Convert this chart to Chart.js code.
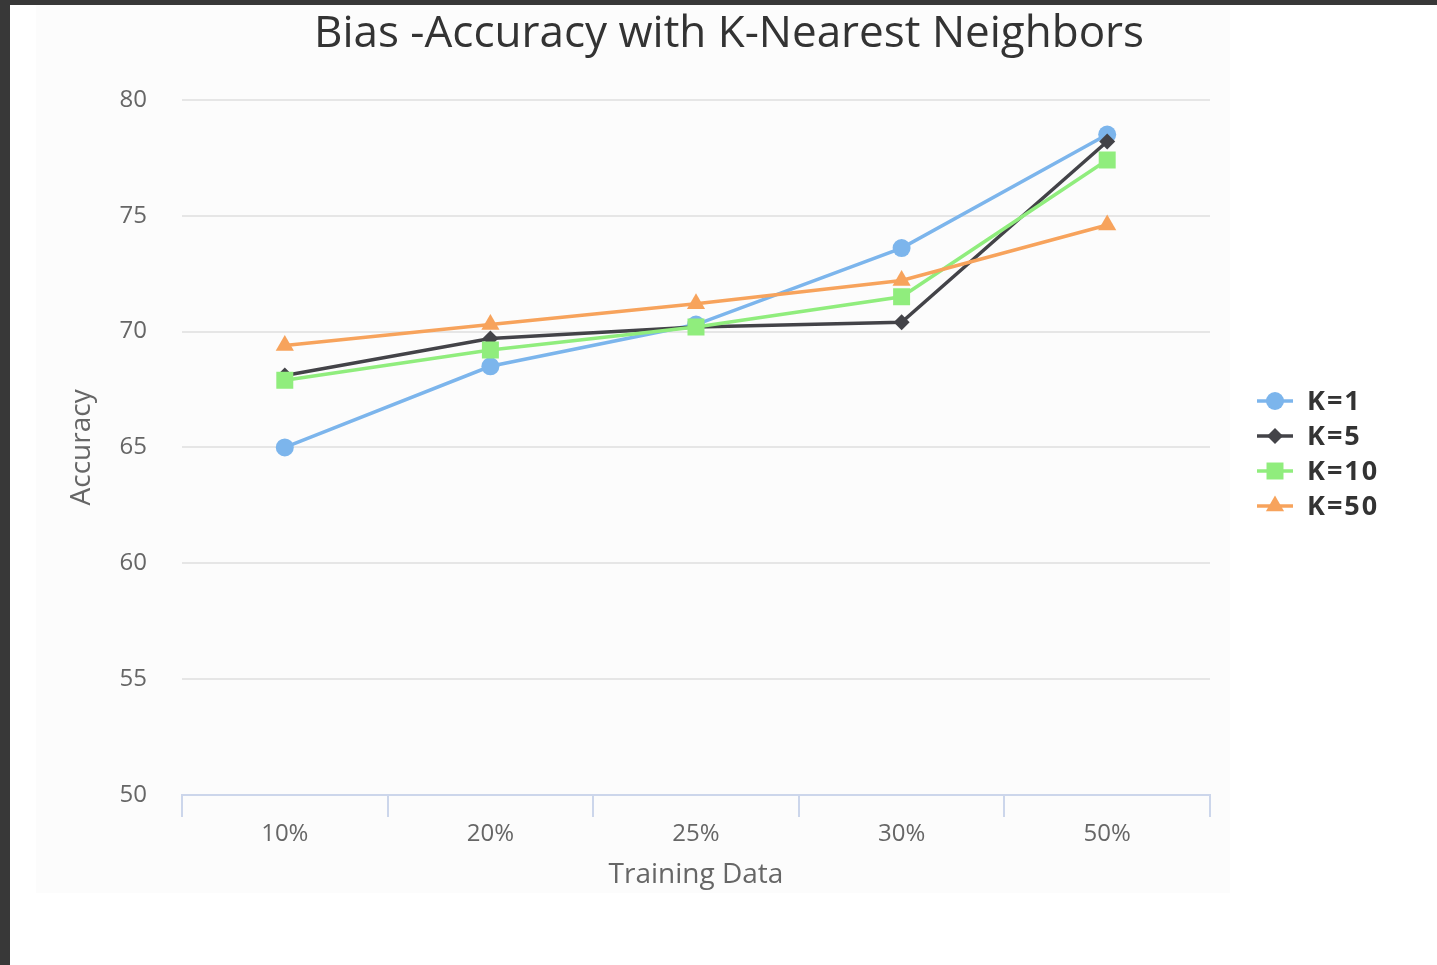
<!DOCTYPE html>
<html>
<head>
<meta charset="utf-8">
<script src="https://cdn.jsdelivr.net/npm/chart.js@4"></script>
<style>
    html, body { margin: 0; padding: 0; background: #383838; }
    #sheet { position: absolute; left: 10px; top: 5px; width: 1427px; height: 960px; background: #ffffff; }
    #panel { position: absolute; left: 26px; top: 0; width: 1194px; height: 888px; background: #fcfcfc; }
    #wrap { position: absolute; left: 0; top: 0; width: 1427px; height: 960px; }
</style>
</head>
<body>
<div id="sheet">
    <div id="panel"></div>
    <div id="wrap"><canvas id="graficoKnn"></canvas></div>
</div>
<script>
const categorias = ['10%', '20%', '25%', '30%', '50%'];
const k1 = [65.0, 68.5, 70.3, 73.6, 78.5];
const k5 = [68.1, 69.7, 70.2, 70.4, 78.2];
const k10 = [67.9, 69.2, 70.2, 71.5, 77.4];
const k50 = [69.4, 70.3, 71.2, 72.2, 74.6];
const yTicks = [50, 55, 60, 65, 70, 75, 80];

document.addEventListener('DOMContentLoaded', function() {
    const ctx = document.getElementById('graficoKnn').getContext('2d');
    const fuente = '"Open Sans", "DejaVu Sans", sans-serif';

    // leyenda a la derecha con linea + marcador (estilo highcharts)
    const leyenda = {
        id: 'leyendaLinea',
        afterDraw(chart) {
            const c = chart.ctx;
            const x0 = 1247, y0 = 396, paso = 35;
            chart.data.datasets.forEach(function(ds, i) {
                const y = y0 + i * paso;
                c.save();
                c.strokeStyle = ds.borderColor;
                c.lineWidth = 3.5;
                c.beginPath();
                c.moveTo(x0, y);
                c.lineTo(x0 + 36, y);
                c.stroke();
                c.fillStyle = ds.backgroundColor;
                Chart.helpers.drawPoint(c, {
                    pointStyle: ds.pointStyle,
                    radius: ds.pointRadius,
                    borderWidth: 0,
                    rotation: 0
                }, x0 + 18, y);
                c.fillStyle = '#333333';
                c.font = 'bold 27px ' + fuente;
                c.letterSpacing = '2px';
                c.textBaseline = 'middle';
                c.fillText(ds.label, x0 + 50, y + 1);
                c.restore();
            });
        }
    };

    new Chart(ctx, {
        type: 'line',
        data: {
            labels: categorias,
            datasets: [
                { label: 'K=1', data: k1, borderColor: '#7cb5ec', backgroundColor: '#7cb5ec', pointStyle: 'circle', pointRadius: 9, order: 3 },
                { label: 'K=5', data: k5, borderColor: '#434348', backgroundColor: '#434348', pointStyle: 'rectRot', pointRadius: 8, order: 2 },
                { label: 'K=10', data: k10, borderColor: '#90ed7d', backgroundColor: '#90ed7d', pointStyle: 'rect', pointRadius: 12, order: 1 },
                { label: 'K=50', data: k50, borderColor: '#f7a35c', backgroundColor: '#f7a35c', pointStyle: 'triangle', pointRadius: 10.5, order: 0 }
            ]
        },
        options: {
            responsive: true,
            maintainAspectRatio: false,
            animation: false,
            layout: { padding: { left: 11, right: 0, top: 0, bottom: 70 } },
            elements: {
                line: { borderWidth: 3.5, tension: 0 },
                point: { borderWidth: 0, hoverRadius: 9 }
            },
            plugins: {
                legend: { display: false },
                tooltip: { enabled: false },
                title: {
                    display: true,
                    text: 'Bias -Accuracy with K-Nearest Neighbors',
                    color: '#333333',
                    font: { family: fuente, size: 44, weight: 'normal' },
                    padding: { top: 3, bottom: 39 }
                }
            },
            scales: {
                x: {
                    offset: true,
                    afterFit: function(scale) { scale.height = 100; },
                    grid: {
                        offset: true,
                        drawOnChartArea: false,
                        drawTicks: true,
                        tickLength: 22,
                        color: '#ccd6eb',
                        lineWidth: 2
                    },
                    border: { display: true, color: '#ccd6eb', width: 2 },
                    ticks: {
                        color: '#666666',
                        padding: 3,
                        font: { family: fuente, size: 24 }
                    },
                    title: {
                        display: true,
                        text: 'Training Data',
                        color: '#666666',
                        font: { family: fuente, size: 28 },
                        padding: { top: 0, bottom: 3 }
                    }
                },
                y: {
                    min: 50,
                    max: 80,
                    afterFit: function(scale) { scale.width = 161; },
                    afterBuildTicks: function(scale) {
                        scale.ticks = yTicks.map(v => ({ value: v }));
                    },
                    grid: {
                        color: '#e6e6e6',
                        lineWidth: 2,
                        drawTicks: false
                    },
                    border: { display: false },
                    ticks: {
                        color: '#666666',
                        padding: 35,
                        font: { family: fuente, size: 24 }
                    },
                    title: {
                        display: true,
                        text: 'Accuracy',
                        color: '#666666',
                        font: { family: fuente, size: 28 },
                        padding: { top: 44, bottom: 0 }
                    }
                },
                // eje vacio a la derecha para reservar el espacio de la leyenda
                yLeyenda: {
                    position: 'right',
                    afterFit: function(scale) { scale.width = 227; },
                    grid: { display: false },
                    border: { display: false },
                    ticks: { display: false }
                }
            }
        },
        plugins: [leyenda]
    });
});
</script>
</body>
</html>
